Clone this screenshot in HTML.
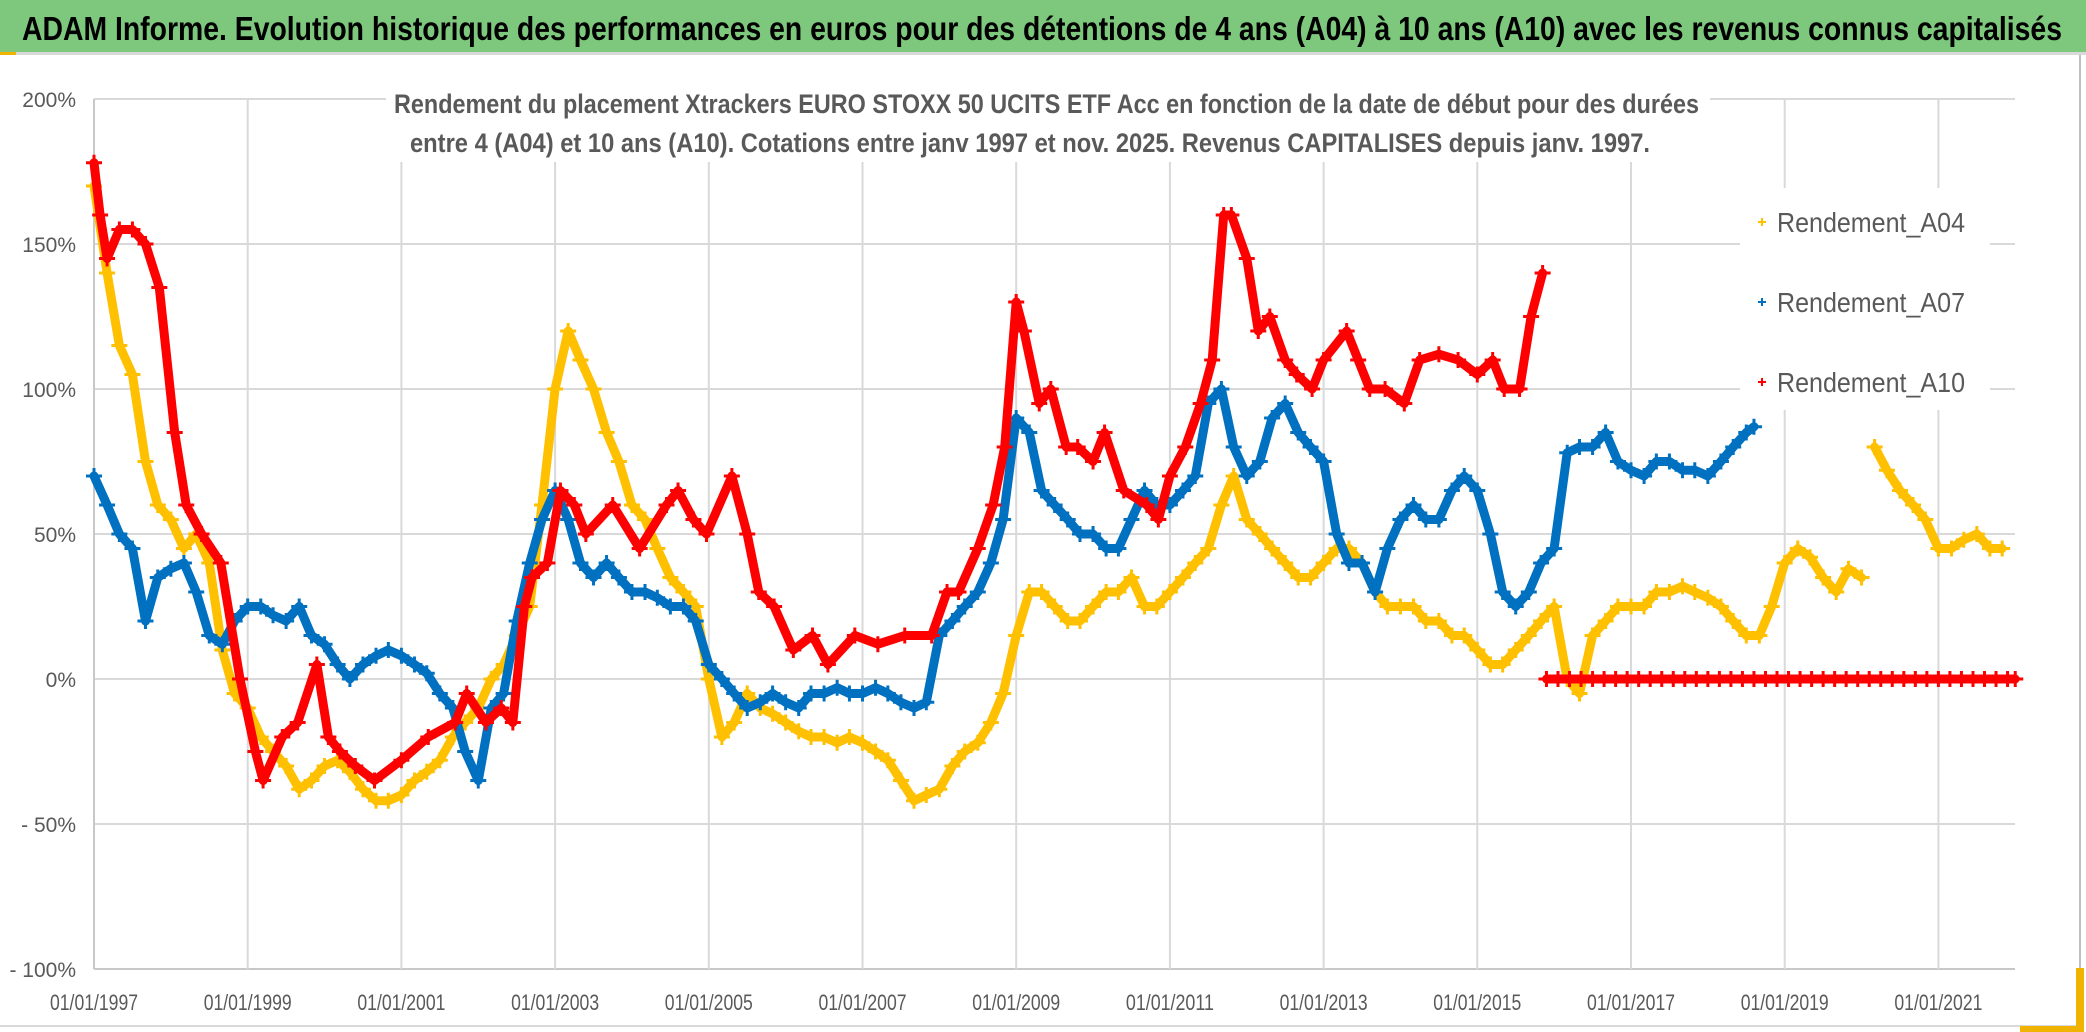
<!DOCTYPE html>
<html><head><meta charset="utf-8"><style>
html,body{margin:0;padding:0;background:#fff;}
svg{display:block;}
text{font-family:"Liberation Sans",sans-serif;}
</style></head><body>
<svg id="chart" width="2086" height="1032" viewBox="0 0 2086 1032" xmlns="http://www.w3.org/2000/svg">
<rect x="0" y="0" width="2086" height="1032" fill="#fff"/>
<g>
<rect x="0" y="0" width="2086" height="52" fill="#7ec87e"/>
<rect x="0" y="52" width="2086" height="3" fill="#d9d9d9"/>
<rect x="0" y="52" width="16" height="3" fill="#f0b400"/>
<text x="22" y="40" font-size="33" font-weight="bold" fill="#000" textLength="2040" lengthAdjust="spacingAndGlyphs">ADAM Informe. Evolution historique des performances en euros pour des détentions de 4 ans (A04) à 10 ans (A10) avec les revenus connus capitalisés</text>
</g>
<line x1="2080" y1="55" x2="2080" y2="1026" stroke="#bfbfbf" stroke-width="2"/>
<line x1="0" y1="1026" x2="2080" y2="1026" stroke="#d9d9d9" stroke-width="2"/>
<rect x="2076" y="968" width="8" height="64" fill="#f0b400"/>
<rect x="2020" y="1026" width="64" height="6" fill="#f0b400"/>
<g id="grid"></g>
<g id="yaxis"></g>
<g id="xaxis"></g>
<g id="series"></g>
<rect x="386" y="88" width="1324" height="74" fill="#fff"/>
<g fill="#595959" font-size="27" font-weight="bold">
<text x="394" y="113" textLength="1305" lengthAdjust="spacingAndGlyphs">Rendement du placement Xtrackers EURO STOXX 50 UCITS ETF Acc en fonction de la date de début pour des durées</text>
<text x="410" y="152" textLength="1240" lengthAdjust="spacingAndGlyphs">entre 4 (A04) et 10 ans (A10). Cotations entre janv 1997 et nov. 2025. Revenus CAPITALISES depuis janv. 1997.</text>
</g>
<g id="legend"></g>
</svg>
<script>
const NS='http://www.w3.org/2000/svg';
const yTicks=[200,150,100,50,0,-50,-100];
const yTickLabels=['200%','150%','100%','50%','0%','- 50%','- 100%'];
const xTicks=[1997,1999,2001,2003,2005,2007,2009,2011,2013,2015,2017,2019,2021];
const xTickLabels=['01/01/1997','01/01/1999','01/01/2001','01/01/2003','01/01/2005','01/01/2007','01/01/2009','01/01/2011','01/01/2013','01/01/2015','01/01/2017','01/01/2019','01/01/2021'];
const seriesNames=['Rendement_A04','Rendement_A07','Rendement_A10'];
const a04Dates=[1997.0,1997.17,1997.33,1997.5,1997.67,1997.83,1998.0,1998.17,1998.33,1998.5,1998.67,1998.83,1999.0,1999.17,1999.33,1999.5,1999.67,1999.83,2000.0,2000.17,2000.33,2000.5,2000.67,2000.83,2001.0,2001.17,2001.33,2001.5,2001.67,2001.83,2002.0,2002.17,2002.33,2002.5,2002.67,2002.83,2003.0,2003.17,2003.33,2003.5,2003.67,2003.83,2004.0,2004.17,2004.33,2004.5,2004.67,2004.83,2005.0,2005.17,2005.33,2005.5,2005.67,2005.83,2006.0,2006.17,2006.33,2006.5,2006.67,2006.83,2007.0,2007.17,2007.33,2007.5,2007.67,2007.83,2008.0,2008.17,2008.33,2008.5,2008.67,2008.83,2009.0,2009.17,2009.33,2009.5,2009.67,2009.83,2010.0,2010.17,2010.33,2010.5,2010.67,2010.83,2011.0,2011.17,2011.33,2011.5,2011.67,2011.83,2012.0,2012.17,2012.33,2012.5,2012.67,2012.83,2013.0,2013.17,2013.33,2013.5,2013.67,2013.83,2014.0,2014.17,2014.33,2014.5,2014.67,2014.83,2015.0,2015.17,2015.33,2015.5,2015.67,2015.83,2016.0,2016.17,2016.33,2016.5,2016.67,2016.83,2017.0,2017.17,2017.33,2017.5,2017.67,2017.83,2018.0,2018.17,2018.33,2018.5,2018.67,2018.83,2019.0,2019.17,2019.33,2019.5,2019.67,2019.83,2020.0,2020.08,2020.17,2020.33,2020.5,2020.67,2020.83,2021.0,2021.17,2021.33,2021.5,2021.67,2021.83];
const a04Values=[170,140,115,105,75,60,55,45,50,40,10,-5,-10,-20,-25,-30,-38,-35,-30,-28,-32,-38,-42,-42,-40,-35,-32,-28,-20,-15,-10,0,5,15,25,60,100,120,110,100,85,75,60,55,45,35,30,25,0,-20,-15,-5,-10,-12,-15,-18,-20,-20,-22,-20,-22,-25,-28,-35,-42,-40,-38,-30,-25,-22,-15,-5,15,30,30,25,20,20,25,30,30,35,25,25,30,35,40,45,60,70,55,50,45,40,35,35,40,45,45,40,30,25,25,25,20,20,15,15,10,5,5,10,15,20,25,0,-5,15,20,25,25,25,30,30,32,30,28,25,20,15,15,25,40,45,42,35,30,38,35,null,80,72,65,60,55,45,45,48,50,45,45];
const a07Dates=[1997.0,1997.17,1997.33,1997.5,1997.67,1997.83,1998.0,1998.17,1998.33,1998.5,1998.67,1998.83,1999.0,1999.17,1999.33,1999.5,1999.67,1999.83,2000.0,2000.17,2000.33,2000.5,2000.67,2000.83,2001.0,2001.17,2001.33,2001.5,2001.67,2001.83,2002.0,2002.17,2002.33,2002.5,2002.67,2002.83,2003.0,2003.17,2003.33,2003.5,2003.67,2003.83,2004.0,2004.17,2004.33,2004.5,2004.67,2004.83,2005.0,2005.17,2005.33,2005.5,2005.67,2005.83,2006.0,2006.17,2006.33,2006.5,2006.67,2006.83,2007.0,2007.17,2007.33,2007.5,2007.67,2007.83,2008.0,2008.17,2008.33,2008.5,2008.67,2008.83,2009.0,2009.17,2009.33,2009.5,2009.67,2009.83,2010.0,2010.17,2010.33,2010.5,2010.67,2010.83,2011.0,2011.17,2011.33,2011.5,2011.67,2011.83,2012.0,2012.17,2012.33,2012.5,2012.67,2012.83,2013.0,2013.17,2013.33,2013.5,2013.67,2013.83,2014.0,2014.17,2014.33,2014.5,2014.67,2014.83,2015.0,2015.17,2015.33,2015.5,2015.67,2015.83,2016.0,2016.17,2016.33,2016.5,2016.67,2016.83,2017.0,2017.17,2017.33,2017.5,2017.67,2017.83,2018.0,2018.17,2018.33,2018.5,2018.6];
const a07Values=[70,60,50,45,20,35,38,40,30,15,12,20,25,25,22,20,25,15,12,5,0,5,8,10,8,5,2,-5,-10,-25,-35,-10,-5,20,40,55,65,55,40,35,40,35,30,30,28,25,25,20,5,0,-5,-10,-8,-5,-8,-10,-5,-5,-3,-5,-5,-3,-5,-8,-10,-8,15,20,25,30,40,55,90,85,65,60,55,50,50,45,45,55,65,60,60,65,70,95,100,80,70,75,90,95,85,80,75,50,40,40,30,45,55,60,55,55,65,70,65,50,30,25,30,40,45,78,80,80,85,75,72,70,75,75,72,72,70,75,80,85,87];
const a10Dates=[1997.0,1997.08,1997.17,1997.33,1997.5,1997.67,1997.85,1998.05,1998.2,1998.4,1998.65,1998.9,1999.1,1999.2,1999.45,1999.65,1999.9,2000.05,2000.2,2000.4,2000.65,2001.0,2001.35,2001.7,2001.85,2002.1,2002.3,2002.45,2002.6,2002.7,2002.9,2003.07,2003.25,2003.4,2003.75,2004.1,2004.45,2004.6,2004.8,2004.97,2005.3,2005.5,2005.65,2005.85,2006.1,2006.35,2006.55,2006.9,2007.2,2007.55,2007.9,2008.1,2008.25,2008.5,2008.7,2008.85,2009.0,2009.1,2009.3,2009.45,2009.65,2009.8,2010.0,2010.15,2010.4,2010.7,2010.85,2011.0,2011.2,2011.4,2011.55,2011.7,2011.8,2012.0,2012.15,2012.3,2012.5,2012.65,2012.85,2013.0,2013.3,2013.45,2013.6,2013.8,2014.05,2014.25,2014.5,2014.75,2015.0,2015.2,2015.35,2015.55,2015.7,2015.85,2015.9,2016.05,2016.2,2016.35,2016.5,2016.65,2016.8,2016.95,2017.1,2017.25,2017.4,2017.55,2017.7,2017.85,2018.0,2018.15,2018.3,2018.45,2018.6,2018.75,2018.9,2019.05,2019.2,2019.35,2019.5,2019.65,2019.8,2019.95,2020.1,2020.25,2020.4,2020.55,2020.7,2020.85,2021.0,2021.15,2021.3,2021.45,2021.6,2021.75,2021.9,2022.0];
const a10Values=[178,160,145,155,155,150,135,85,60,50,40,0,-25,-35,-20,-15,5,-20,-25,-30,-35,-28,-20,-15,-5,-15,-10,-15,25,35,40,65,60,50,60,45,60,65,55,50,70,50,30,25,10,15,5,15,12,15,15,30,30,45,60,80,130,120,95,100,80,80,75,85,65,60,55,70,80,95,110,160,160,145,120,125,110,105,100,110,120,110,100,100,95,110,112,110,105,110,100,100,125,140,0,0,0,0,0,0,0,0,0,0,0,0,0,0,0,0,0,0,0,0,0,0,0,0,0,0,0,0,0,0,0,0,0,0,0,0,0,0,0,0,0,0,0];
const X0=94, YR2=153.7, Y0=679, PER50=145, XR=2015, YT=99, YB=969;
function xs(d){return X0+(d-1997)*YR2/2;}
function ys(v){return Y0-v/50*PER50;}
function el(tag,attrs,parent){const e=document.createElementNS(NS,tag);for(const k in attrs)e.setAttribute(k,attrs[k]);parent.appendChild(e);return e;}
const grid=document.getElementById('grid'),yax=document.getElementById('yaxis'),xax=document.getElementById('xaxis'),ser=document.getElementById('series'),leg=document.getElementById('legend');
yTicks.forEach((t,i)=>{
  const l=el('line',{x1:X0,x2:XR,y1:ys(t),y2:ys(t),stroke:t===-100?'#c8c8c8':'#d9d9d9','stroke-width':2},grid);
  
  
  const tx=el('text',{x:76,y:ys(t)+8,'text-anchor':'end','font-size':21,fill:'#595959'},yax);
  tx.textContent=yTickLabels[i];
  
  
});
xTicks.forEach((t,i)=>{
  const l=el('line',{x1:xs(t),x2:xs(t),y1:YT,y2:YB,stroke:t===1997?'#c8c8c8':'#d9d9d9','stroke-width':2},grid);
  
  
  const tx=el('text',{x:xs(t),y:1010,'text-anchor':'middle','font-size':22,fill:'#595959',textLength:88,lengthAdjust:'spacingAndGlyphs'},xax);
  tx.textContent=xTickLabels[i];
  
  
});
function plus(g,x,y,c,s,w){el('path',{d:`M${x-s} ${y}H${x+s}M${x} ${y-s}V${y+s}`,stroke:c,'stroke-width':w,fill:'none'},g);}
function drawSeries(dates,vals,color,name){
  const g=el('g',{},ser);
  
  
  let d='';
  dates.forEach((dt,i)=>{
    if(vals[i]===null)return;
    const brk=i===0||vals[i-1]===null||Math.abs(vals[i]-vals[i-1])>100;
    d+=(brk?'M':'L')+xs(dt).toFixed(1)+' '+ys(vals[i]).toFixed(1);
  });
  el('path',{d:d,stroke:color,'stroke-width':9,fill:'none','stroke-linejoin':'round','stroke-linecap':'round'},g);
  dates.forEach((dt,i)=>{if(vals[i]!==null)plus(g,xs(dt),ys(vals[i]),color,8,3);});
}
drawSeries(a04Dates,a04Values,'#ffc000','series-a04');
drawSeries(a07Dates,a07Values,'#0070c0','series-a07');
drawSeries(a10Dates,a10Values,'#ff0000','series-a10');
const legColors=['#ffc000','#0070c0','#ff0000'];
const legY=[232,312,392];
el('rect',{x:1740,y:188,width:250,height:222,fill:'#fff'},leg);
seriesNames.forEach((n,i)=>{
  const g=el('g',{},leg);
  
  
  plus(g,1762,legY[i]-10,legColors[i],4,2);
  const tx=el('text',{x:1777,y:legY[i],'font-size':28,fill:'#595959',textLength:188,lengthAdjust:'spacingAndGlyphs'},g);
  tx.textContent=n;
});
</script>
</body></html>
